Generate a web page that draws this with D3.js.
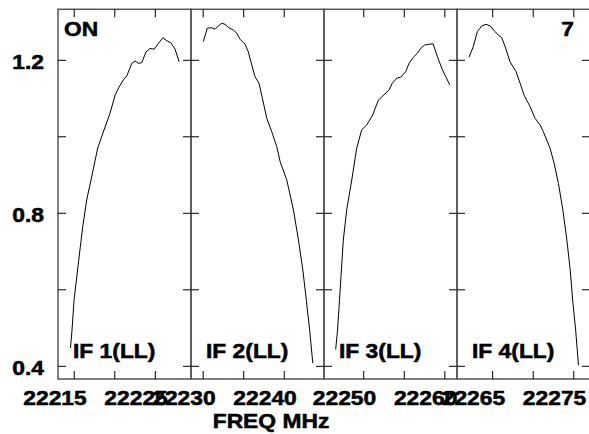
<!DOCTYPE html>
<html>
<head>
<meta charset="utf-8">
<script src="https://cdn.jsdelivr.net/npm/d3@7"></script>
<style>
  html, body { margin: 0; padding: 0; background: #fff; }
  svg { display: block; }
  text { font-family: "Liberation Sans", Arial, sans-serif; font-weight: bold; fill: #000; stroke: #000; stroke-width: 0.5px; }
</style>
</head>
<body>
<svg id="chart" width="589" height="434"></svg>
<script>
// ---------------- data ----------------
const ifNames = ["IF 1(LL)", "IF 2(LL)", "IF 3(LL)", "IF 4(LL)"];
const freqDomains = [[22213.0, 22229.4], [22228.5, 22244.9], [22245.1, 22261.5], [22260.6, 22277.0]];
const xTicks = [[22215, 22220, 22225], [22230, 22235, 22240], [22250, 22255, 22260], [22265, 22270, 22275]];
const xTickLabels = [[22215, 22225], [22230, 22240], [22250, 22260], [22265, 22275]];
const yTicks = [0.4, 0.6, 0.8, 1.0, 1.2];
const yTickLabels = [0.4, 0.8, 1.2];
const yDomain = [0.3668, 1.3333];

const if1Freq = [22214.54, 22214.73, 22214.98, 22215.53, 22216.05, 22216.54, 22217.20, 22217.90, 22218.68, 22219.42, 22220.04, 22220.53, 22221.06, 22221.48, 22222.10, 22222.51, 22222.91, 22223.33, 22223.86, 22224.36, 22224.85, 22225.38, 22225.93, 22226.42, 22226.91, 22227.44, 22227.94];
const if1Amp  = [0.448, 0.495, 0.573, 0.673, 0.765, 0.835, 0.900, 0.971, 1.018, 1.062, 1.109, 1.130, 1.149, 1.159, 1.192, 1.198, 1.192, 1.194, 1.222, 1.231, 1.229, 1.244, 1.259, 1.251, 1.246, 1.229, 1.196];

const if2Freq = [22230.02, 22230.51, 22231.06, 22231.46, 22231.87, 22232.29, 22232.70, 22233.10, 22233.72, 22234.14, 22234.55, 22235.16, 22235.57, 22235.99, 22236.40, 22236.89, 22237.35, 22237.85, 22238.46, 22239.08, 22239.49, 22240.31, 22241.13, 22241.75, 22242.29, 22242.72, 22243.13, 22243.52];
const if2Amp  = [1.249, 1.284, 1.285, 1.281, 1.290, 1.297, 1.294, 1.286, 1.279, 1.271, 1.255, 1.242, 1.222, 1.188, 1.157, 1.140, 1.096, 1.048, 1.013, 0.974, 0.935, 0.887, 0.809, 0.730, 0.652, 0.573, 0.495, 0.408];

const if3Freq = [22246.54, 22246.77, 22247.01, 22247.48, 22247.90, 22248.52, 22249.14, 22249.75, 22250.37, 22251.11, 22251.80, 22253.11, 22253.52, 22254.06, 22254.56, 22255.17, 22255.58, 22256.12, 22256.61, 22257.10, 22257.52, 22258.06, 22258.55, 22259.09, 22259.70, 22260.12, 22260.62];
const if3Amp  = [0.444, 0.495, 0.573, 0.730, 0.809, 0.887, 0.971, 1.018, 1.031, 1.057, 1.096, 1.122, 1.140, 1.153, 1.156, 1.170, 1.192, 1.208, 1.218, 1.233, 1.240, 1.242, 1.243, 1.209, 1.175, 1.157, 1.135];

const if4Freq = [22262.08, 22262.61, 22263.11, 22263.65, 22264.18, 22264.67, 22265.29, 22265.70, 22266.12, 22266.53, 22267.14, 22267.89, 22268.38, 22268.91, 22269.61, 22270.23, 22270.85, 22271.25, 22272.08, 22272.57, 22273.11, 22273.65, 22274.15, 22274.56, 22274.86, 22275.23, 22275.58];
const if4Amp  = [1.208, 1.236, 1.275, 1.290, 1.294, 1.290, 1.275, 1.266, 1.259, 1.236, 1.196, 1.170, 1.140, 1.107, 1.079, 1.048, 1.031, 1.013, 0.970, 0.931, 0.878, 0.809, 0.730, 0.652, 0.573, 0.495, 0.403];

const seriesFreq = [if1Freq, if2Freq, if3Freq, if4Freq];
const seriesAmp = [if1Amp, if2Amp, if3Amp, if4Amp];

// ---------------- layout ----------------
(function draw() {
const svg = d3.select("#chart");
const plotLeft = 58, panelW = 133, plotTop = 9.3, plotBottom = 379;
const fontSize = 19.5, stretch = 1.17, tickLen = 8;
const frameColor = "#555";

const y = d3.scaleLinear().domain(yDomain).range([plotBottom, plotTop]);

function label(g, txt, x, yy, anchor) {
  g.append("text")
    .attr("transform", `translate(${x},${yy}) scale(${stretch},1)`)
    .attr("text-anchor", anchor || "start")
    .attr("font-size", fontSize)
    .text(txt);
}

for (let p = 0; p < 4; p++) {
  const x0 = plotLeft + p * panelW, x1 = x0 + panelW;
  const x = d3.scaleLinear().domain(freqDomains[p]).range([x0, x1]);
  const g = svg.append("g");

  g.append("rect").attr("x", x0).attr("y", plotTop).attr("width", panelW).attr("height", plotBottom - plotTop)
    .attr("fill", "none").attr("stroke", frameColor).attr("stroke-width", 1.5);

  xTicks[p].forEach(t => {
    g.append("line").attr("x1", x(t)).attr("x2", x(t)).attr("y1", plotBottom).attr("y2", plotBottom - tickLen)
      .attr("stroke", "#000").attr("stroke-width", 1);
    g.append("line").attr("x1", x(t)).attr("x2", x(t)).attr("y1", plotTop).attr("y2", plotTop + tickLen)
      .attr("stroke", "#000").attr("stroke-width", 1);
  });
  yTicks.forEach(t => {
    g.append("line").attr("x1", x0).attr("x2", x0 + tickLen).attr("y1", y(t)).attr("y2", y(t))
      .attr("stroke", "#000").attr("stroke-width", 1);
    g.append("line").attr("x1", x1).attr("x2", x1 - tickLen).attr("y1", y(t)).attr("y2", y(t))
      .attr("stroke", "#000").attr("stroke-width", 1);
  });

  xTickLabels[p].forEach(t => label(g, String(t), x(t) + 12.5, 405, "end"));

  const pts = seriesFreq[p].map((f, i) => [f, seriesAmp[p][i]]);
  g.append("path").datum(pts)
    .attr("d", d3.line().x(d => x(d[0])).y(d => y(d[1])).curve(d3.curveLinear))
    .attr("fill", "none").attr("stroke", "#000").attr("stroke-width", 1);

  label(g, ifNames[p], x0 + 15, 358, "start");
}

yTickLabels.forEach(t => label(svg, t.toFixed(1), 44, y(t) + 8.5, "end"));

label(svg, "ON", 64, 36, "start");
label(svg, "7", 574, 36, "end");
label(svg, "FREQ MHz", 212.7, 428, "start");
})();
</script>
</body>
</html>
